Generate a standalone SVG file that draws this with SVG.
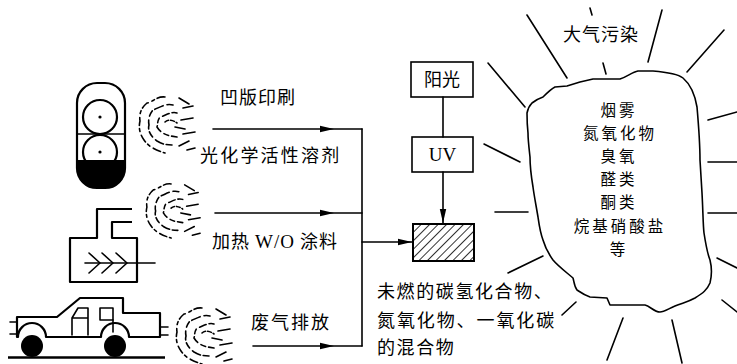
<svg xmlns="http://www.w3.org/2000/svg" xmlns:xlink="http://www.w3.org/1999/xlink" width="737" height="364" viewBox="0 0 737 364">
  <style>
    .ln { fill: none; stroke: #000; stroke-width: 1.6; stroke-linecap: round; stroke-linejoin: round; }
    .thick { fill: none; stroke: #000; stroke-width: 2.2; stroke-linejoin: round; }
    .box { fill: #fff; stroke: #000; stroke-width: 1.6; }
    .txt { font-family: "Noto Sans CJK SC", "Noto Sans", sans-serif; font-size: 18px; fill: #000; }
    .cloud-txt { font-family: "Noto Sans CJK SC", "Noto Sans", sans-serif; font-size: 15.5px; letter-spacing: 3px; fill: #000; text-anchor: middle; }
    .lat { font-family: "Liberation Serif", serif; font-size: 19px; }
    .mid { text-anchor: middle; }
    .fume { fill: none; stroke: #000; stroke-width: 1.6; stroke-linecap: round; }
  </style>
  <defs>
    <marker id="arrow" viewBox="0 0 14 8" refX="14" refY="4" markerWidth="14" markerHeight="8" markerUnits="userSpaceOnUse" orient="auto">
      <path d="M0,0.8 L14,4 L0,7.2 Z" fill="#000"/>
    </marker>
    <pattern id="hatch" patternUnits="userSpaceOnUse" width="6" height="6" patternTransform="rotate(45)">
      <line x1="0" y1="0" x2="0" y2="6" stroke="#000" stroke-width="1.6"/>
    </pattern>
    <!-- broken curling puff of vapour, opening to the right -->
    <symbol id="puff" viewBox="0 0 66 62" overflow="visible">
      <path class="fume" d="M30,3 C22,2 18,8 12,9 C6,14 4,20 5,27 C3,35 6,42 9,46 C13,52 20,56 30,59" stroke-dasharray="8 3 3 4"/>
      <path class="fume" d="M38,11 C30,9 24,14 18,16 C14,21 13,26 14,31 C12,38 18,44 22,47 C27,50 31,51 37,51" stroke-dasharray="6 4 9 3"/>
      <path class="fume" d="M42,19 C36,17 30,22 25,23 C22,27 23,30 22,33 C25,38 30,41 36,42 L42,43" stroke-dasharray="5 3 7 4"/>
      <path class="fume" d="M30,28 C33,25 38,26 42,29" stroke-dasharray="4 2"/>
      <path class="fume" d="M44,4 L54,10 M48,14 L58,12 M46,26 L58,24 M40,33 L50,35 M48,40 L60,38 M44,52 L54,47 M52,56 L60,54"/>
    </symbol>
  </defs>

  <!-- gravure printing press -->
  <g id="press">
    <rect x="77" y="83" width="48" height="105" rx="20" class="thick" fill="#fff"/>
    <path d="M77,160 H125 V168 A20,20 0 0 1 105,188 H97 A20,20 0 0 1 77,168 Z" fill="#000"/>
    <line x1="77" y1="134" x2="125" y2="134" class="ln"/>
    <circle cx="100" cy="117" r="17" class="thick" fill="#fff"/>
    <circle cx="100" cy="152" r="17" class="thick" fill="#fff"/>
    <circle cx="100" cy="117" r="1.6" fill="#000"/>
    <circle cx="100" cy="152" r="1.6" fill="#000"/>
  </g>
  <use id="puff-press" href="#puff" xlink:href="#puff" x="135" y="94" width="66" height="62"/>

  <!-- heated coating oven -->
  <g id="oven">
    <path class="thick" d="M132,209 H97 V238 H70 V282 H137 V238 H112 V222 H132"/>
    <line x1="85" y1="263" x2="155" y2="263" class="ln"/>
    <path class="ln" d="M89,253 L100,263 L89,273 M102,253 L113,263 L102,273 M116,253 L127,263 L116,273"/>
  </g>
  <use id="puff-oven" href="#puff" xlink:href="#puff" x="141" y="181" width="66" height="60"/>

  <!-- pickup truck -->
  <g id="truck">
    <path class="thick" d="M17,337 V317 H57 L80,298 H123 V313 H160 V337 H129 A14,14 0 0 0 101,337 H46 A14,14 0 0 0 18,337 Z"/>
    <path class="ln" d="M10,322 H17 M10,334 H17 M160,327 H168 M160,335 H168"/>
    <path class="ln" d="M72,335 V318 L78,308 H88 V335 M72,318 H88"/>
    <rect x="100" y="308" width="13" height="12" class="ln"/>
    <line x1="113" y1="320" x2="113" y2="332" class="ln"/>
    <circle cx="32" cy="346" r="11" fill="#000"/>
    <circle cx="115" cy="346" r="11" fill="#000"/>
    <line x1="8" y1="357.5" x2="165" y2="357.5" stroke="#000" stroke-width="2.6"/>
  </g>
  <use id="puff-truck" href="#puff" xlink:href="#puff" x="170" y="305" width="70" height="62"/>

  <!-- source labels -->
  <g id="label-gravure"><text class="txt" x="220" y="104" letter-spacing="1">凹版印刷</text></g>
  <g id="label-solvent"><text class="txt" x="200" y="162" letter-spacing="2.2">光化学活性溶剂</text></g>
  <g id="label-coating"><text class="txt" x="212" y="248" letter-spacing="1">加热 <tspan class="lat">W/O</tspan> 涂料</text></g>
  <g id="label-exhaust"><text class="txt" x="251" y="329" letter-spacing="2">废气排放</text></g>

  <!-- sunlight, UV and reaction mixture -->
  <g id="sunlight">
    <rect x="411" y="62" width="62" height="35" class="box"/>
    <text class="txt mid" x="442" y="86">阳光</text>
  </g>
  <g id="uv">
    <rect x="412" y="137" width="61" height="35" class="box"/>
    <text class="txt mid lat" x="442.5" y="161">UV</text>
  </g>
  <g id="mixture">
    <rect x="413" y="224" width="61" height="37" fill="url(#hatch)" stroke="#000" stroke-width="2"/>
  </g>
  <g id="mixture-label">
    <text class="txt" x="377" y="298" letter-spacing="1.6">未燃的碳氢化合物、</text>
    <text class="txt" x="377" y="327" letter-spacing="1.9">氮氧化物、一氧化碳</text>
    <text class="txt" x="377" y="354" letter-spacing="1.6">的混合物</text>
  </g>

  <!-- air pollution cloud -->
  <g id="pollution">
    <path class="ln" d="M555,87 L567,86 L580,82 L593,79 L620,79 C627,77 632,72 638,71 L653,71 C665,72 678,74 683,78 C690,84 695,95 697,107 C699,130 700,150 700,160 L702,193 C703,210 703,225 704,233 C706,246 708,255 710,260 C712,268 712,275 710,283 C707,290 703,293 695,298 C688,302 682,303 675,306 C668,309 664,312 660,312 C654,312 650,306 645,305 L610,305 L607,298 L590,297 C584,295 580,292 577,290 C574,286 574,281 573,278 C566,272 558,266 553,260 C548,253 545,247 543,240 C540,232 539,224 538,217 C536,205 534,195 533,187 C531,175 530,166 530,157 C529,148 528,140 528,133 C527,124 527,118 527,113 C528,108 530,105 532,103 C536,100 540,98 543,97 C547,93 551,89 555,87 Z" fill="#fff"/>
    <g class="cloud-txt">
      <text x="619" y="115.5">烟雾</text>
      <text x="620" y="138.7">氮氧化物</text>
      <text x="619" y="161.9">臭氧</text>
      <text x="619" y="185.1">醛类</text>
      <text x="619" y="208.3">酮类</text>
      <text x="620" y="231.5">烷基硝酸盐</text>
      <text x="619" y="254.7">等</text>
    </g>
    <text class="txt mid" x="601" y="41" letter-spacing="1">大气污染</text>
    <path class="ln" d="M590,8 L592,15 M603,63 L606,74 M527,15 L567,78 M662,10 L648,62 M724,30 L687,72 M488,63 L525,107 M484,144 L520,162 M495,212 L528,212 M508,273 L543,256 M562,315 L576,302 M623,318 L607,360 M672,320 L682,363 M722,300 L737,312 M717,258 L737,268 M708,120 L737,112 M708,162 L737,162 M708,213 L737,213"/>
  </g>

  <!-- flow connectors -->
  <g id="connectors" class="ln" stroke-width="1.6">
    <path d="M213,129 L334,129 L362,129" marker-mid="url(#arrow)"/>
    <path d="M215,213 L334,213 L362,213" marker-mid="url(#arrow)"/>
    <path d="M253,346 L334,346 L362,346" marker-mid="url(#arrow)"/>
    <path d="M362,129 V346"/>
    <path d="M362,242 H412" marker-end="url(#arrow)"/>
    <path d="M443,97 V137"/>
    <path d="M443,172 V223" marker-end="url(#arrow)"/>
  </g>
</svg>
